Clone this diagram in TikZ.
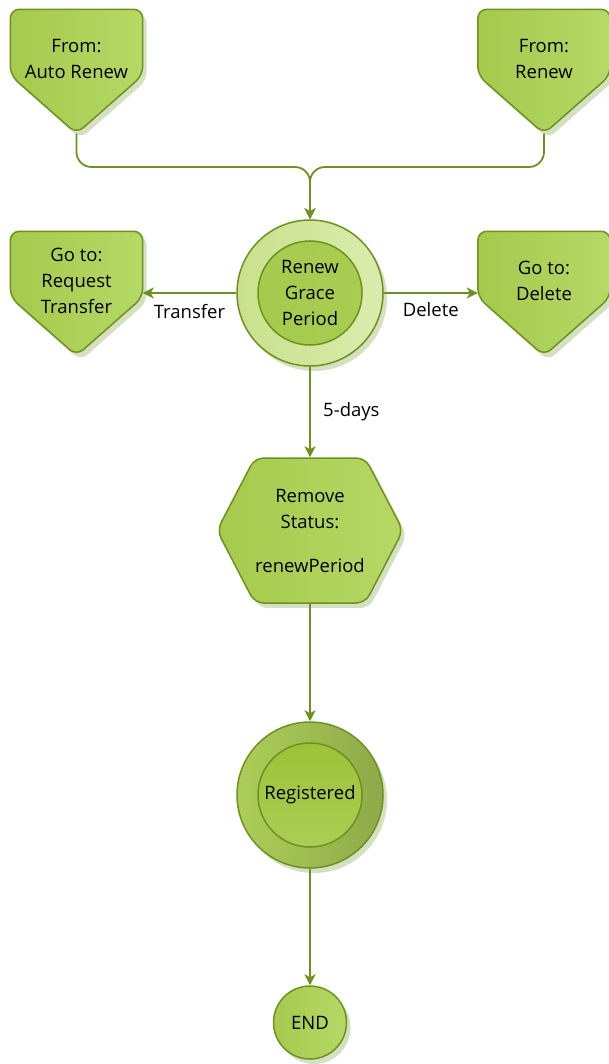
\documentclass[tikz,border=0pt]{standalone}
\usepackage{fontspec}
\setmainfont{Open Sans}
\usetikzlibrary{shapes.symbols,shadows,arrows.meta,backgrounds}
\definecolor{lineg}{HTML}{6C921F}
\definecolor{fillg}{HTML}{B6D866}
\definecolor{fillgd}{HTML}{A5CA4C}
\definecolor{ringl}{HTML}{DAECAE}
\definecolor{ringd}{HTML}{C9E18C}
\definecolor{shadeg}{HTML}{D5DFC2}
\definecolor{regl}{HTML}{ADCE58}
\definecolor{regd}{HTML}{8EA949}
\definecolor{regc}{HTML}{9CC238}

\begin{document}
\begin{tikzpicture}[x=1pt,y=-1pt,
    font=\fontsize{18.5}{26}\selectfont,
    box/.style={draw=lineg,line width=1.5pt,left color=fillgd,right color=fillg,
      drop shadow={shadow xshift=4pt,shadow yshift=-5pt,fill=shadeg,opacity=1}},
    page/.style={rectangle,minimum width=132pt,minimum height=124pt,align=center,inner sep=0pt},
    hexa/.style={box,signal,signal to=west and east,signal pointer angle=125,
      minimum width=186pt,minimum height=145pt,rounded corners=9pt,align=center,inner sep=0pt},
    ring/.style={box,circle,inner sep=0pt},
    core/.style={circle,draw=lineg,line width=1.5pt,minimum size=104pt,align=center,inner sep=0pt},
    flow/.style={draw=lineg,line width=1.8pt,-{Stealth[length=11pt,width=11pt,inset=3pt]}}]
    \useasboundingbox (0,0) rectangle (608,1064);

    \node[page] (a) at (76.5,71.5) {From:\\Auto Renew\\};
    \node[page] (b) at (544,71.5) {From:\\Renew\\};
    \node[page] (c) at (76.5,293.5) {Go to:\\Request\\Transfer\\};
    \node[page] (d) at (544,293.5) {Go to:\\Delete\\};
    \begin{scope}[on background layer]
    \foreach \n in {a,b,c,d}
        \path[box,rounded corners=9pt] (\n.north) -- (\n.north east) -- ([yshift=-66pt]\n.north east)
            -- (\n.south) -- ([yshift=-66pt]\n.north west) -- (\n.north west) -- cycle;
    \end{scope}

    \node[ring,minimum size=146pt,left color=ringd,right color=ringl] (e) at (310,293) {};
    \node[core,left color=fillgd,right color=fillgd!80!fillg] (e1) at (e) {Renew\\Grace\\Period};

    \node[hexa] (f) at (310,530.5) {Remove\\Status:\\[18pt]renewPeriod};

    \node[ring,minimum size=146pt,left color=regl,right color=regd] (g) at (310,795) {};
    \node[core,top color=regc,bottom color=fillgd!70!fillg] (g1) at (g) {Registered};

    \node[ring,minimum size=73pt] (h) at (310,1022.5) {END};

    \coordinate (j) at (310,167);
    \draw[flow,rounded corners=15pt] (a.south) |- (j) -- (e.north);
    \draw[flow,rounded corners=15pt] (b.south) |- (j) -- (e.north);
    \draw[flow] (e.west) -- (e.west -| c.east) node[midway,below=7pt] {Transfer};
    \draw[flow] (e.east) -- (e.east -| d.west) node[midway,below=5pt] {Delete};
    \draw[flow] (e.south) -- (f.north) node[midway,right=9pt] {5-days};
    \draw[flow] (f.south) -- (g.north);
    \draw[flow] (g.south) -- (h.north);
\end{tikzpicture}
\end{document}
